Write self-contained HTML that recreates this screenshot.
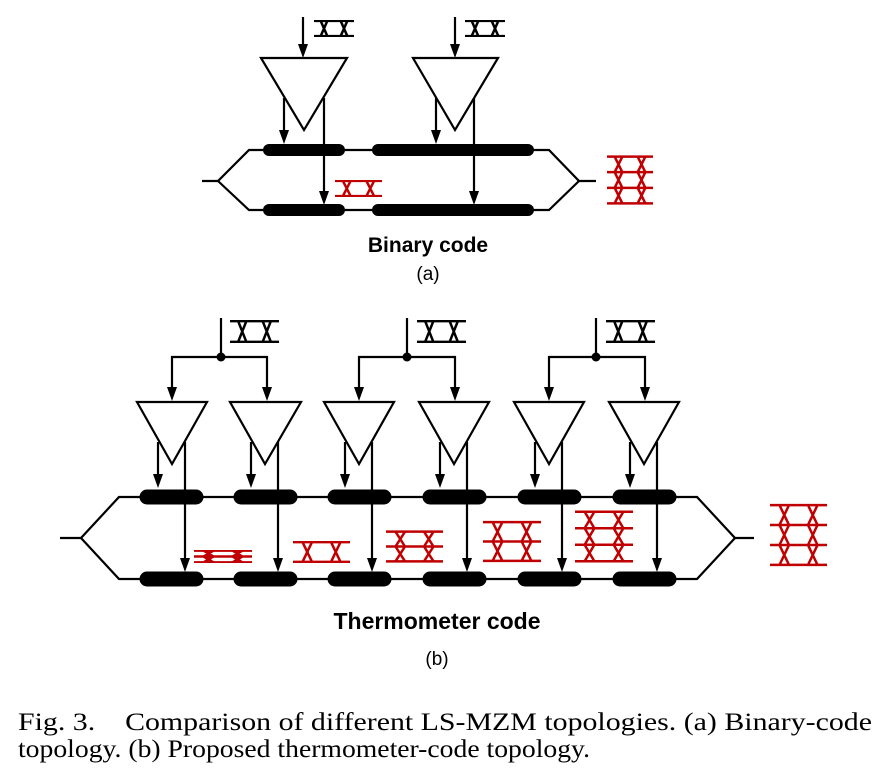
<!DOCTYPE html>
<html><head><meta charset="utf-8"><style>
html,body{margin:0;padding:0;background:#fff;}
svg{display:block;}
</style></head><body>
<svg width="880" height="771" viewBox="0 0 880 771" xmlns="http://www.w3.org/2000/svg">
<defs>
<symbol id="e2" viewBox="0 0 60 20" preserveAspectRatio="none">
<path d="M0,1H60M0,19H60M10,1L20,19M20,1L10,19M40,1L50,19M50,1L40,19" stroke="currentColor" stroke-width="2.5" fill="none" vector-effect="non-scaling-stroke"/></symbol>
<symbol id="e3" viewBox="0 0 60 20" preserveAspectRatio="none">
<path d="M0,1H60M0,10H60M0,19H60M10,1L20,10M20,1L10,10M10,10L20,19M20,10L10,19M40,1L50,10M50,1L40,10M40,10L50,19M50,10L40,19" stroke="currentColor" stroke-width="2.5" fill="none" vector-effect="non-scaling-stroke"/></symbol>
<symbol id="e4" viewBox="0 0 60 30" preserveAspectRatio="none">
<path d="M0,1H60M0,10.3H60M0,19.7H60M0,29H60M10,1L20,10.3M20,1L10,10.3M10,10.3L20,19.7M20,10.3L10,19.7M10,19.7L20,29M20,19.7L10,29M40,1L50,10.3M50,1L40,10.3M40,10.3L50,19.7M50,10.3L40,19.7M40,19.7L50,29M50,19.7L40,29" stroke="currentColor" stroke-width="2.5" fill="none" vector-effect="non-scaling-stroke"/></symbol>
<path id="ar" d="M-5,-14 L5,-14 L0,0 z" fill="#000"/>
</defs>

<g stroke="#000" stroke-width="2.2" fill="none">
<line x1="303" y1="17" x2="303" y2="46"/>
<line x1="455" y1="17" x2="455" y2="46"/>
<polygon points="261,58 347,58 304,130" fill="#fff"/>
<polygon points="413,58 498,58 455,130" fill="#fff"/>
<line x1="284" y1="98" x2="284" y2="132"/>
<line x1="436" y1="98" x2="436" y2="132"/>
<polyline points="202,181 218,181 249,150 549,150 579,181 596,181"/>
<polyline points="218,181 249,210 549,210 579,181"/>
</g>
<use href="#ar" x="303" y="58"/><use href="#ar" x="455" y="58"/>
<use href="#ar" x="284" y="144"/><use href="#ar" x="436" y="144"/>
<g stroke="#000" stroke-width="12" stroke-linecap="round">
<line x1="269" y1="150" x2="339" y2="150"/><line x1="378" y1="150" x2="528" y2="150"/>
<line x1="269" y1="210" x2="339" y2="210"/><line x1="378" y1="210" x2="528" y2="210"/>
</g>
<g stroke="#000" stroke-width="2.2" fill="none">
<line x1="324" y1="98" x2="324" y2="193"/>
<line x1="474" y1="98" x2="474" y2="193"/>
</g>
<use href="#ar" x="324" y="205"/><use href="#ar" x="474" y="205"/>
<use href="#e2" x="314" y="20" width="40" height="17" color="#000"/>
<use href="#e2" x="465" y="20" width="40" height="17" color="#000"/>
<use href="#e2" x="335" y="180" width="47" height="17" color="#c00000"/>
<use href="#e4" x="607" y="155" width="46" height="50" color="#c00000"/>
<text x="428" y="252" font-family="Liberation Sans, sans-serif" font-weight="bold" font-size="21" text-anchor="middle">Binary code</text>
<text x="428" y="280" font-family="Liberation Sans, sans-serif" font-size="19" text-anchor="middle">(a)</text>

<g stroke="#000" stroke-width="2.2" fill="none">
<polyline points="60,538 81,538 119,497 697,497 735,538 754,538"/>
<polyline points="81,538 119,579 697,579 735,538"/>
</g>
<g stroke="#000" stroke-width="15" stroke-linecap="round">
<line x1="147" y1="497" x2="196" y2="497"/><line x1="147" y1="579" x2="196" y2="579"/>
<line x1="241" y1="497" x2="290" y2="497"/><line x1="241" y1="579" x2="290" y2="579"/>
<line x1="335" y1="497" x2="384" y2="497"/><line x1="335" y1="579" x2="384" y2="579"/>
<line x1="430" y1="497" x2="479" y2="497"/><line x1="430" y1="579" x2="479" y2="579"/>
<line x1="525" y1="497" x2="574" y2="497"/><line x1="525" y1="579" x2="574" y2="579"/>
<line x1="620" y1="497" x2="669" y2="497"/><line x1="620" y1="579" x2="669" y2="579"/>
</g>
<g stroke="#000" stroke-width="2.2" fill="none">
<line x1="221" y1="318" x2="221" y2="357"/><line x1="407" y1="318" x2="407" y2="357"/><line x1="596" y1="318" x2="596" y2="357"/>
<polyline points="172,390 172,357 267,357 267,390"/>
<polyline points="359,390 359,357 455,357 455,390"/>
<polyline points="549,390 549,357 645,357 645,390"/>
</g>
<g fill="#000"><circle cx="221" cy="357" r="4.5"/><circle cx="407" cy="357" r="4.5"/><circle cx="596" cy="357" r="4.5"/></g>
<use href="#ar" x="172" y="401"/><use href="#ar" x="267" y="401"/><use href="#ar" x="359" y="401"/>
<use href="#ar" x="455" y="401"/><use href="#ar" x="549" y="401"/><use href="#ar" x="645" y="401"/>
<g stroke="#000" stroke-width="2.2" fill="#fff">
<polygon points="137,402 207,402 172,464"/>
<polygon points="230,402 301,402 265,464"/>
<polygon points="324,402 394,402 359,464"/>
<polygon points="419,402 489,402 454,464"/>
<polygon points="514,402 584,402 549,464"/>
<polygon points="609,402 679,402 644,464"/>
</g>
<g stroke="#000" stroke-width="2.2" fill="none">
<line x1="158" y1="442" x2="158" y2="476"/><line x1="185" y1="442" x2="185" y2="560"/>
<line x1="251" y1="442" x2="251" y2="476"/><line x1="278" y1="442" x2="278" y2="560"/>
<line x1="345" y1="442" x2="345" y2="476"/><line x1="372" y1="442" x2="372" y2="560"/>
<line x1="440" y1="442" x2="440" y2="476"/><line x1="467" y1="442" x2="467" y2="560"/>
<line x1="535" y1="442" x2="535" y2="476"/><line x1="562" y1="442" x2="562" y2="560"/>
<line x1="630" y1="442" x2="630" y2="476"/><line x1="657" y1="442" x2="657" y2="560"/>
</g>
<use href="#ar" x="158" y="488"/><use href="#ar" x="185" y="572"/>
<use href="#ar" x="251" y="488"/><use href="#ar" x="278" y="572"/>
<use href="#ar" x="345" y="488"/><use href="#ar" x="372" y="572"/>
<use href="#ar" x="440" y="488"/><use href="#ar" x="467" y="572"/>
<use href="#ar" x="535" y="488"/><use href="#ar" x="562" y="572"/>
<use href="#ar" x="630" y="488"/><use href="#ar" x="657" y="572"/>
<use href="#e2" x="230" y="320" width="49" height="23" color="#000"/>
<use href="#e2" x="417" y="320" width="49" height="23" color="#000"/>
<use href="#e2" x="606" y="320" width="49" height="23" color="#000"/>
<use href="#e3" x="194" y="550" width="58" height="13" color="#c00000"/>
<use href="#e2" x="293" y="541" width="57" height="22" color="#c00000"/>
<use href="#e3" x="386" y="530" width="57" height="33" color="#c00000"/>
<use href="#e3" x="483" y="520" width="58" height="43" color="#c00000"/>
<use href="#e4" x="575" y="510" width="58" height="53" color="#c00000"/>
<use href="#e4" x="770" y="503" width="57" height="64" color="#c00000"/>
<text x="437" y="629" font-family="Liberation Sans, sans-serif" font-weight="bold" font-size="23" text-anchor="middle">Thermometer code</text>
<text x="437" y="665" font-family="Liberation Sans, sans-serif" font-size="19" text-anchor="middle">(b)</text>

<text x="18" y="730" font-family="Liberation Serif, serif" font-size="25" textLength="854" lengthAdjust="spacingAndGlyphs">Fig. 3.&#160;&#160;&#160; Comparison of different LS-MZM topologies. (a) Binary-code</text>
<text x="18" y="757" font-family="Liberation Serif, serif" font-size="25" textLength="572" lengthAdjust="spacingAndGlyphs">topology. (b) Proposed thermometer-code topology.</text>
</svg>
</body></html>
